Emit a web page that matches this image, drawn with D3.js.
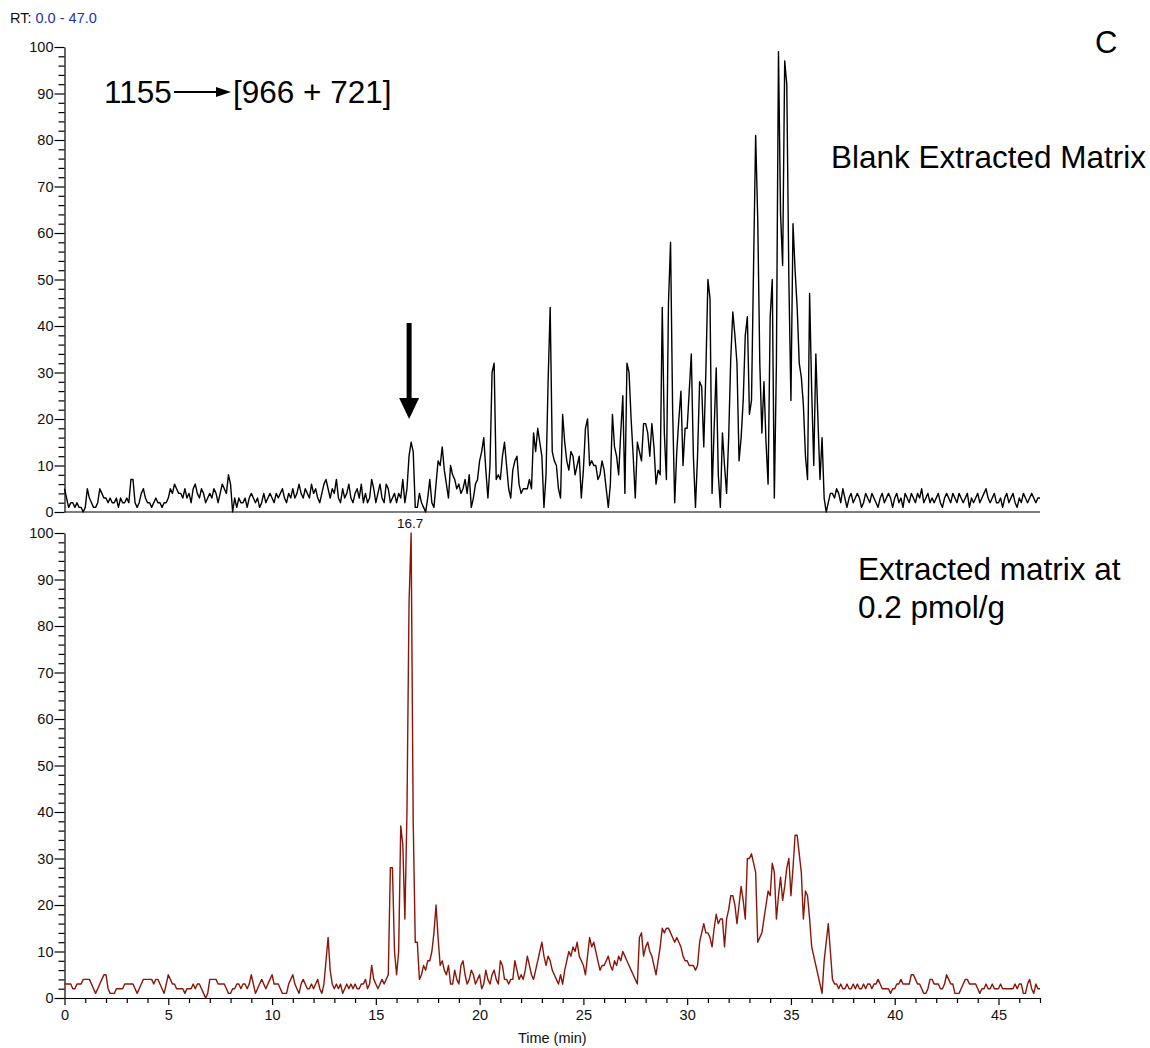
<!DOCTYPE html>
<html>
<head>
<meta charset="utf-8">
<script src="https://cdn.jsdelivr.net/npm/d3@7"></script>
<style>
body { margin: 0; background: #fff; }
svg { display: block; font-family: "Liberation Sans", Arial, sans-serif; }
</style>
</head>
<body>
<script>
// retention time grid: one value every 0.1 min from 0.0 to 47.0
var rtStart = 0;
var rtStep = 0.1;
var rtRange = [0, 47];

// top trace, blank extracted matrix (relative abundance, %)
var blankIntensity = [
  5,3,1,2,2,1,2,1,1,0,
  1,5,3,2,1,1,2,5,4,3,
  3,2,3,2,2,3,1,3,2,2,
  3,2,7,7,2,1,2,4,5,3,
  2,2,1,2,3,2,2,1,2,2,
  3,5,4,6,5,4,4,3,5,3,
  4,2,5,6,4,3,5,4,2,3,
  4,3,5,4,2,4,6,5,4,8,
  6,0,3,1,3,2,2,3,1,3,
  4,3,2,3,1,2,4,2,3,4,
  3,2,4,3,4,5,3,2,4,3,
  5,3,4,6,4,3,5,4,3,6,
  4,5,3,2,4,6,7,5,3,5,
  4,7,3,2,5,3,4,6,3,2,
  4,5,3,6,2,4,2,3,7,5,
  2,4,6,3,2,6,5,2,3,4,
  2,4,3,7,2,5,12,15,13,1,
  1,4,2,1,0,3,7,2,1,6,
  11,10,14,9,6,3,10,8,7,5,
  6,4,5,7,4,8,1,3,6,7,
  11,13,16,9,3,10,30,32,7,8,
  7,12,15,10,5,3,9,11,12,6,
  4,5,5,5,7,5,17,13,18,15,
  12,1,8,28,44,13,11,10,5,3,
  21,15,11,9,13,12,8,10,12,3,
  9,18,20,10,11,10,10,7,8,11,
  9,5,1,6,21,14,12,8,17,25,
  4,32,30,20,12,3,15,13,11,19,
  19,17,12,19,14,6,9,8,44,17,
  7,45,58,22,2,13,20,26,10,18,
  18,26,34,12,1,12,28,27,14,30,
  50,46,4,18,31,8,1,17,10,4,
  16,33,43,38,32,11,16,24,38,42,
  21,24,53,81,63,32,17,28,15,6,
  42,50,3,32,99,64,53,97,92,50,
  24,62,52,44,32,29,23,12,7,47,
  26,10,34,20,7,16,3,0,2,4,
  4,3,5,4,2,5,3,1,3,4,
  2,3,4,3,1,2,4,3,2,4,
  3,2,1,3,4,2,3,4,3,1,
  3,4,2,3,1,4,3,2,4,3,
  2,4,3,5,2,3,4,2,3,2,
  3,4,2,1,3,4,3,2,4,3,
  2,4,3,2,3,4,1,3,2,3,
  4,2,3,4,5,3,2,3,4,2,
  2,3,1,3,4,2,3,4,2,1,
  3,2,4,3,2,3,4,3,2,3,
  3
];

// bottom trace, extracted matrix spiked at 0.2 pmol/g
var spikedIntensity = [
  3,3,3,3,2,2,3,3,3,4,
  4,4,4,3,2,1,2,3,4,5,
  5,2,1,1,1,2,2,2,2,3,
  3,3,3,3,2,1,2,3,4,4,
  4,4,4,3,4,4,3,2,1,3,
  5,4,3,3,2,2,2,2,1,2,
  2,2,3,2,3,3,2,1,0,1,
  4,4,4,4,3,3,3,3,2,1,
  1,2,2,3,3,2,3,3,2,3,
  5,3,1,2,3,4,3,2,3,4,
  5,3,3,3,2,1,1,1,3,4,
  5,3,2,1,3,4,3,2,2,3,
  2,3,4,2,1,3,8,13,6,3,
  2,3,2,3,1,2,3,2,3,2,
  3,2,2,3,3,4,2,3,7,4,
  3,2,3,4,3,4,5,28,28,10,
  5,10,37,33,17,40,85,100,38,12,
  12,4,5,7,6,8,8,10,14,20,
  13,7,8,6,5,7,3,3,6,4,
  3,7,8,5,3,4,6,5,3,4,
  5,2,3,6,4,3,5,6,4,3,
  8,7,4,4,3,4,4,8,6,4,
  5,4,6,9,7,5,4,6,8,10,
  12,9,7,9,8,6,5,4,3,5,
  3,6,8,10,9,11,10,12,9,8,
  7,5,9,13,11,12,10,8,6,7,
  7,8,9,7,6,8,7,9,8,10,
  9,8,7,6,5,4,3,13,14,9,
  11,12,10,9,7,5,8,11,15,14,
  15,15,14,13,12,13,12,11,9,8,
  8,7,7,7,6,7,12,14,16,14,
  14,13,11,15,18,16,17,17,11,17,
  19,22,22,20,16,20,24,21,17,30,
  30,31,29,27,12,13,14,17,20,23,
  22,29,27,17,22,26,21,24,28,30,
  22,28,35,35,31,27,17,23,22,17,
  11,9,7,5,3,1,8,12,16,10,
  4,3,3,2,3,2,2,3,2,2,
  3,2,3,2,2,3,2,3,3,2,
  3,3,4,3,2,2,2,2,1,2,
  2,3,3,4,3,3,3,3,5,5,
  4,3,3,2,1,1,2,4,4,3,
  3,3,2,2,3,5,4,3,3,1,
  1,1,2,3,4,4,3,3,3,3,
  2,1,2,2,3,2,2,3,2,2,
  2,3,2,2,2,2,2,2,3,2,
  3,3,1,1,3,4,2,1,3,2,
  2
];

var timeTicks = d3.range(0, 48, 1);       // minor every 1 min, labelled every 5
var intensityTicks = d3.range(0, 101, 2); // minor every 2 %, labelled every 10
var peakLabel = { rt: 16.7, text: "16.7" };

var w = 1150;
var h = 1048;

var svg = d3.select("body")
  .append("svg")
  .attr("width", w)
  .attr("height", h);

var x = d3.scaleLinear().domain(rtRange).range([64.5, 1040]);
var yTop = d3.scaleLinear().domain([0, 100]).range([512, 47]);
var yBot = d3.scaleLinear().domain([0, 100]).range([998, 533]);

function yAxis(scale) {
  var g = svg.append("g")
    .attr("transform", "translate(64.5,0)")
    .call(d3.axisLeft(scale)
      .tickValues(intensityTicks)
      .tickSize(6)
      .tickSizeOuter(0)
      .tickPadding(2)
      .tickFormat(function(d) { return d % 10 === 0 ? d : ""; }));
  g.selectAll(".tick")
    .filter(function(d) { return d % 10 === 0; })
    .select("line")
    .attr("x2", -10);
  g.selectAll("text").attr("x", -11).style("font-size", "14.5px").attr("fill", "#111");
  g.selectAll("line, path").attr("stroke", "#000").attr("stroke-width", 1.2);
  g.attr("font-family", null);
  return g;
}

yAxis(yTop);
yAxis(yBot);

// top panel baseline (no labels)
svg.append("line")
  .attr("x1", x(rtRange[0]))
  .attr("x2", x(rtRange[1]))
  .attr("y1", yTop(0))
  .attr("y2", yTop(0))
  .attr("stroke", "#000")
  .attr("stroke-width", 1.2);

var xg = svg.append("g")
  .attr("transform", "translate(0," + yBot(0) + ")")
  .call(d3.axisBottom(x)
    .tickValues(timeTicks)
    .tickSize(5)
    .tickSizeOuter(0)
    .tickPadding(6)
    .tickFormat(function(d) { return d % 5 === 0 ? d : ""; }));
xg.selectAll(".tick")
  .filter(function(d) { return d % 5 === 0; })
  .select("line")
  .attr("y2", 7);
xg.selectAll("text").attr("y", 12).style("font-size", "14.5px").attr("fill", "#111");
xg.selectAll("line, path").attr("stroke", "#000").attr("stroke-width", 1.2);
xg.attr("font-family", null);

svg.append("text")
  .attr("x", x(23.5))
  .attr("y", 1043)
  .attr("text-anchor", "middle")
  .style("font-size", "14.5px")
  .attr("fill", "#111")
  .text("Time (min)");

// traces
function trace(values, scale, colour) {
  var line = d3.line()
    .x(function(d, i) { return x(rtStart + i * rtStep); })
    .y(function(d) { return scale(d); });
  svg.append("path")
    .datum(values)
    .attr("d", line)
    .attr("fill", "none")
    .attr("stroke", colour)
    .attr("stroke-width", 1.4)
    .attr("stroke-linejoin", "round");
}

trace(blankIntensity, yTop, "#000");
trace(spikedIntensity, yBot, "#8a1508");

svg.append("text")
  .attr("x", x(peakLabel.rt) - 1)
  .attr("y", yBot(100) - 5)
  .attr("text-anchor", "middle")
  .style("font-size", "13.5px")
  .attr("fill", "#111")
  .text(peakLabel.text);

// header
var rt = svg.append("text")
  .attr("x", 10)
  .attr("y", 23)
  .style("font-size", "14.5px");
rt.append("tspan").attr("fill", "#111").text("RT: ");
rt.append("tspan").attr("fill", "#1d33b5").text(rtRange[0].toFixed(1) + " - " + rtRange[1].toFixed(1));

// annotations
svg.append("text").attr("x", 104).attr("y", 103).style("font-size", "31.5px").text("1155");
svg.append("line")
  .attr("x1", 174).attr("x2", 218)
  .attr("y1", 92).attr("y2", 92)
  .attr("stroke", "#000").attr("stroke-width", 2);
svg.append("path").attr("d", "M216,87 L231,92 L216,97 Z").attr("fill", "#000");
svg.append("text").attr("x", 233).attr("y", 103).style("font-size", "31.5px").text("[966 + 721]");

svg.append("text").attr("x", 1095).attr("y", 53).style("font-size", "31px").text("C");
svg.append("text").attr("x", 831).attr("y", 168).style("font-size", "31.5px").text("Blank Extracted Matrix");
svg.append("text").attr("x", 858).attr("y", 580).style("font-size", "31.5px").text("Extracted matrix at");
svg.append("text").attr("x", 858).attr("y", 618).style("font-size", "31.5px").text("0.2 pmol/g");

// down arrow above the 16.7 min position
var ax = x(peakLabel.rt) - 2;
svg.append("line")
  .attr("x1", ax).attr("x2", ax)
  .attr("y1", 323).attr("y2", 402)
  .attr("stroke", "#000").attr("stroke-width", 5);
svg.append("path")
  .attr("d", "M" + (ax - 10) + ",398 L" + (ax + 10) + ",398 L" + ax + ",419 Z")
  .attr("fill", "#000");
</script>
</body>
</html>
